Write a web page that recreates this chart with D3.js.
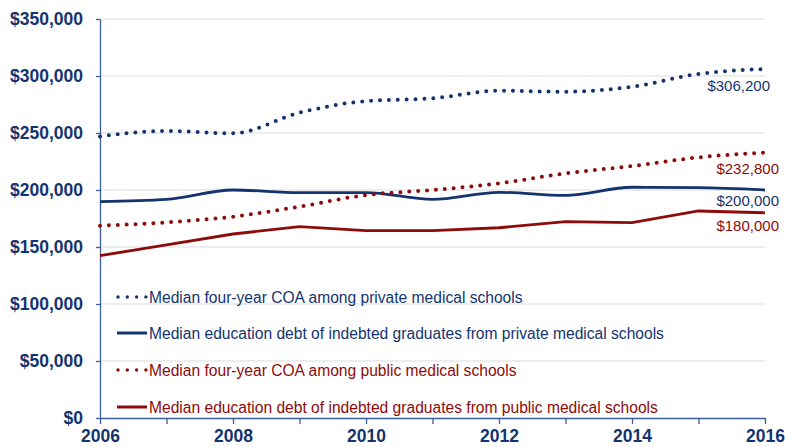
<!DOCTYPE html>
<html>
<head>
<meta charset="utf-8">
<script src="https://cdn.jsdelivr.net/npm/d3@7"></script>
<style>
  body { margin: 0; background: #fff; }
  svg { display: block; font-family: "Liberation Sans", Arial, sans-serif; }
</style>
</head>
<body>
<div id="chart"></div>
<script>
// values
const years = [2006, 2007, 2008, 2009, 2010, 2011, 2012, 2013, 2014, 2015, 2016];
const privateCOA  = [247000, 251800, 249700, 267800, 278000, 280400, 287100, 286200, 290600, 301800, 306200];
const privateDebt = [189800, 191800, 200000, 197700, 197700, 191800, 198000, 195200, 202400, 202000, 200000];
const publicCOA   = [168700, 171600, 176600, 185400, 195600, 200000, 205800, 214600, 221000, 228600, 232800];
const publicDebt  = [142400, 151800, 161400, 167800, 164300, 164300, 166900, 172200, 171300, 181600, 180000];
const yTicks = [0, 50000, 100000, 150000, 200000, 250000, 300000, 350000];
const xLabelYears = [2006, 2008, 2010, 2012, 2014, 2016];
const legendLabels = [
  "Median four-year COA among private medical schools",
  "Median education debt of indebted graduates from private medical schools",
  "Median four-year COA among public medical schools",
  "Median education debt of indebted graduates from public medical schools"
];
const endLabels = ["$306,200", "$200,000", "$232,800", "$180,000"];

const navy = "#14346f";
const red = "#8e0b0b";

const width = 785;
const height = 447;
const marginTop = 19;
const marginRight = 20;
const marginBottom = 29;
const marginLeft = 100;

const svg = d3.select("#chart")
  .append("svg")
  .attr("width", width)
  .attr("height", height)
  .attr("viewBox", [0, 0, width, height]);

const x = d3.scaleLinear([2006, 2016], [marginLeft, width - marginRight]);
const y = d3.scaleLinear([0, 350000], [height - marginBottom, marginTop]);

// gridlines
svg.append("g")
  .selectAll("line")
  .data(yTicks.filter(d => d > 0))
  .join("line")
  .attr("x1", marginLeft)
  .attr("x2", width - marginRight)
  .attr("y1", d => y(d))
  .attr("y2", d => y(d))
  .attr("stroke", "#dcdcdc")
  .attr("stroke-width", 1.2);

// y axis
svg.append("g")
  .attr("transform", `translate(${marginLeft},0)`)
  .call(d3.axisLeft(y).tickValues(yTicks).tickFormat(d3.format("$,")).tickSize(4).tickPadding(13).tickSizeOuter(0))
  .call(g => g.selectAll("path, line").attr("stroke", "#3f5c9a").attr("stroke-width", 1.3))
  .call(g => g.selectAll("text")
    .attr("fill", navy)
    .attr("font-size", 17.5)
    .attr("font-weight", "bold")
    .attr("font-family", "Liberation Sans, Arial, sans-serif"));

// x axis
svg.append("g")
  .attr("transform", `translate(0,${height - marginBottom})`)
  .call(d3.axisBottom(x).tickValues(years).tickFormat(d => xLabelYears.includes(d) ? d : "").tickSize(6).tickPadding(6).tickSizeOuter(0))
  .call(g => g.selectAll("path, line").attr("stroke", "#3f5c9a").attr("stroke-width", 1.3))
  .call(g => g.selectAll("text")
    .attr("fill", navy)
    .attr("font-size", 17.5)
    .attr("font-weight", "bold")
    .attr("font-family", "Liberation Sans, Arial, sans-serif"));

const smooth = d3.line()
  .x((d, i) => x(years[i]))
  .y(d => y(d))
  .curve(d3.curveMonotoneX);

const straight = d3.line()
  .x((d, i) => x(years[i]))
  .y(d => y(d));

const series = [
  { values: privateCOA, color: navy, dotted: true, line: smooth },
  { values: privateDebt, color: navy, dotted: false, line: smooth },
  { values: publicCOA, color: red, dotted: true, line: smooth },
  { values: publicDebt, color: red, dotted: false, line: straight }
];

series.forEach(s => {
  const p = svg.append("path")
    .attr("d", s.line(s.values))
    .attr("fill", "none")
    .attr("stroke", s.color);
  if (s.dotted) {
    p.attr("stroke-width", 4)
      .attr("stroke-dasharray", "0 8.9")
      .attr("stroke-linecap", "round");
  } else {
    p.attr("stroke-width", 2.8);
  }
});

// end labels
const endSpec = [
  { text: endLabels[0], color: navy, x: 770, y: 90.5 },
  { text: endLabels[2], color: red, x: 779, y: 173.5 },
  { text: endLabels[1], color: navy, x: 779, y: 206 },
  { text: endLabels[3], color: red, x: 779, y: 230.5 }
];
svg.append("g")
  .selectAll("text")
  .data(endSpec)
  .join("text")
  .attr("x", d => d.x)
  .attr("y", d => d.y)
  .attr("text-anchor", "end")
  .attr("font-size", 15)
  .attr("fill", d => d.color)
  .text(d => d.text);

// legend
const legendY = [297, 333, 370, 407];
const legend = svg.append("g");
series.forEach((s, i) => {
  const g = legend.append("g").attr("transform", `translate(0,${legendY[i]})`);
  if (s.dotted) {
    g.append("line")
      .attr("x1", 118).attr("x2", 146)
      .attr("stroke", s.color)
      .attr("stroke-width", 3.4)
      .attr("stroke-dasharray", "0 9.3")
      .attr("stroke-linecap", "round");
  } else {
    g.append("line")
      .attr("x1", 117).attr("x2", 147)
      .attr("stroke", s.color)
      .attr("stroke-width", 3);
  }
  g.append("text")
    .attr("x", 149)
    .attr("dy", "0.36em")
    .attr("font-size", 15.6)
    .attr("fill", s.color)
    .text(legendLabels[i]);
});
</script>
</body>
</html>
